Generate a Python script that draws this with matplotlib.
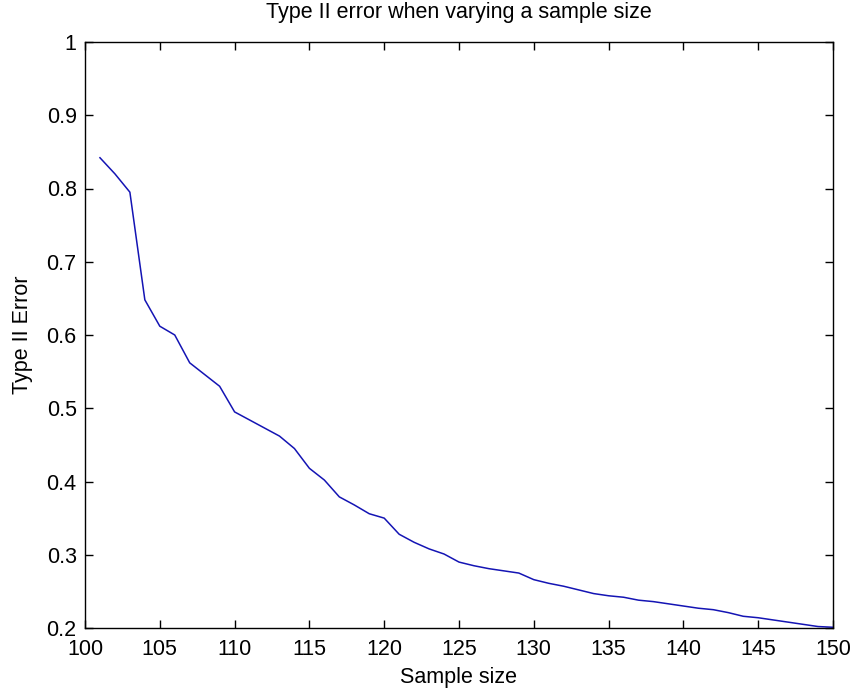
import matplotlib
matplotlib.use("Agg")
import matplotlib.pyplot as plt

sample_size = list(range(101, 151))
type2_error = [0.842, 0.820, 0.795, 0.648, 0.612, 0.600, 0.562, 0.546, 0.530, 0.495,
               0.484, 0.473, 0.462, 0.445, 0.418, 0.402, 0.379, 0.368, 0.356, 0.350,
               0.328, 0.317, 0.308, 0.301, 0.290, 0.285, 0.281, 0.278, 0.275, 0.266,
               0.261, 0.257, 0.252, 0.247, 0.244, 0.242, 0.238, 0.236, 0.233, 0.230,
               0.227, 0.225, 0.221, 0.216, 0.214, 0.211, 0.208, 0.205, 0.202, 0.201]
x_ticks = [100, 105, 110, 115, 120, 125, 130, 135, 140, 145, 150]
y_ticks = [0.2, 0.3, 0.4, 0.5, 0.6, 0.7, 0.8, 0.9, 1.0]
y_labels = ["0.2", "0.3", "0.4", "0.5", "0.6", "0.7", "0.8", "0.9", "1"]

plt.rcParams['font.family'] = ['Liberation Sans', 'DejaVu Sans']

fig = plt.figure(figsize=(8.52, 6.93), dpi=100)
ax = fig.add_axes([85/852, 65/693, (833-85)/852, (628-42)/693])
ax.plot(sample_size, type2_error, color='#1414b4', linewidth=1.1)
ax.set_xlim(100, 150)
ax.set_ylim(0.2, 1.0)
ax.set_xticks(x_ticks)
ax.set_yticks(y_ticks)
ax.set_yticklabels(y_labels)
ax.tick_params(direction='in', top=True, right=True, length=6, width=1, labelsize=15.5)
ax.tick_params(axis='x', pad=8)
ax.tick_params(axis='y', pad=6)
for s in ax.spines.values():
    s.set_linewidth(1.0)
ax.set_title("Type II error when varying a sample size", fontsize=15.5, pad=17)
ax.set_xlabel("Sample size", fontsize=15.5, labelpad=5)
ax.set_ylabel("Type II Error", fontsize=15.5, labelpad=10)
fig.savefig("out.png", dpi=100)
